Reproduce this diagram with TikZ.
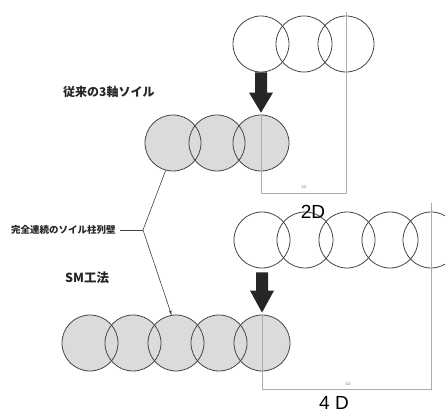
\documentclass[tikz,border=0pt]{standalone}
\usepackage{fontspec}
\setmainfont{Liberation Sans}
\newfontfamily\jp{Noto Sans CJK JP}
\usetikzlibrary{arrows.meta,calc}
\tikzset{
  pile/.style={circle, draw=gray!55!black, line width=0.8pt, minimum size=56pt, inner sep=0pt},
  guide/.style={draw=gray!65, line width=0.8pt},
  bigarrow/.style={fill=black!85},
  jplabel/.style={text=black!85, inner sep=0pt},
  dimlabel/.style={font=\fontsize{19}{19}\selectfont, inner sep=0pt},
  tinylabel/.style={font=\fontsize{4}{4}\selectfont, text=gray, inner sep=0pt},
  leader/.style={draw=gray!50!black, line width=0.6pt}
}
\begin{document}
\begin{tikzpicture}[x=1pt,y=-1pt]
\useasboundingbox (0,0) rectangle (445,414);
\clip (0,0) rectangle (445,414);
% shaded fills first
\foreach \x in {173,217,261} \fill[gray!28] (\x,143) circle[radius=28pt];
\foreach \x in {90,133,176,219,262} \fill[gray!28] (\x,343) circle[radius=28pt];
% top group
\node[pile] (T1) at (261,44) {};
\node[pile] (T2) at (304,44) {};
\node[pile] (T3) at (346,44) {};
\node[pile] (S1) at (173,143) {};
\node[pile] (S2) at (217,143) {};
\node[pile] (S3) at (261,143) {};
% bottom group
\node[pile] (U1) at (262,240) {};
\node[pile] (U2) at (305,240) {};
\node[pile] (U3) at (347,240) {};
\node[pile] (U4) at (390,240) {};
\node[pile] (U5) at (431,240) {};
\node[pile] (V1) at (90,343) {};
\node[pile] (V2) at (133,343) {};
\node[pile] (V3) at (176,343) {};
\node[pile] (V4) at (219,343) {};
\node[pile] (V5) at (262,343) {};
% dimension brackets
\coordinate (A1) at (346,12);
\coordinate (B1) at (346,193);
\coordinate (C1) at (261,193);
\draw[guide] (A1) -- (B1) -- (C1) -- (S3.north);
\coordinate (A2) at (431,203);
\coordinate (B2) at (431,389);
\coordinate (C2) at (262,389);
\draw[guide] (A2) -- (B2) -- (C2) -- (V5.north);
% big arrows
\fill[bigarrow] ($(T1.south)+(-6,0)$) -- ($(T1.south)+(6,0)$) -- ($(S3.north)+(6,-22)$) -- ($(S3.north)+(12,-22)$) -- ($(S3.north)+(0,-2)$) -- ($(S3.north)+(-12,-22)$) -- ($(S3.north)+(-6,-22)$) -- cycle;
\fill[bigarrow] ($(U1.south)+(-6,4)$) -- ($(U1.south)+(6,4)$) -- ($(V5.north)+(6,-24)$) -- ($(V5.north)+(12,-24)$) -- ($(V5.north)+(0,-2)$) -- ($(V5.north)+(-12,-24)$) -- ($(V5.north)+(-6,-24)$) -- cycle;
% labels
\node[jplabel, font=\jp\bfseries\fontsize{12}{12}\selectfont, anchor=west] (Lold) at (63,92) {従来の3軸ソイル};
\node[jplabel, font=\jp\bfseries\fontsize{9.5}{9.5}\selectfont, anchor=west] (Lwall) at (11,230) {完全連続のソイル柱列壁};
\node[jplabel, font=\jp\bfseries\fontsize{12.5}{12.5}\selectfont, anchor=west] (Lsm) at (65,278) {SM工法};
\node[dimlabel] (D2) at (313,212) {2D};
\node[dimlabel] (D4) at (334,403) {4 D};
\node[tinylabel] (d2) at (304,187) {2D};
\node[tinylabel] (d4) at (348,384) {4D};
% leader lines
\coordinate (J) at (143,230);
\draw[leader] ($(Lwall.east)+(4,0)$) -- (J);
\draw[leader] (J) -- (S1.255);
\draw[leader, -{Stealth[length=5pt,width=3pt]}] (J) -- (V3.99);
\end{tikzpicture}
\end{document}
